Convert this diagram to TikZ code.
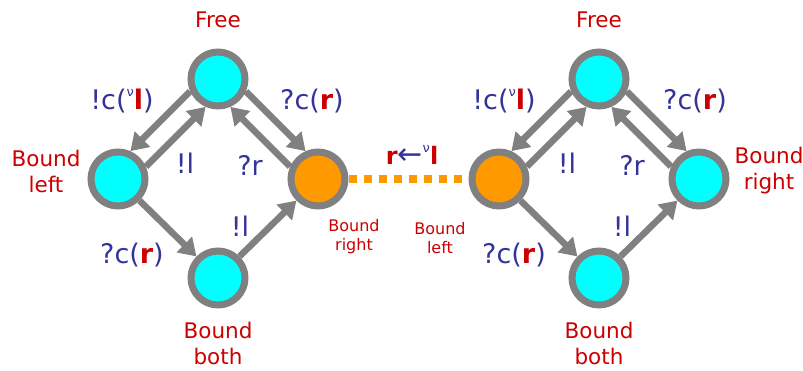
\documentclass[tikz,border=0pt]{standalone}
\usepackage{fontspec}
\setmainfont{DejaVu Sans}
\usetikzlibrary{arrows.meta}
\definecolor{lblred}{HTML}{CC0000}
\definecolor{lblblue}{HTML}{333399}
\definecolor{ngray}{HTML}{808080}
\definecolor{ncyan}{HTML}{00FFFF}
\definecolor{norange}{HTML}{FF9900}
\newcommand{\redr}{\textcolor{lblred}{\textbf{r}}}
\newcommand{\redl}{\textcolor{lblred}{\textbf{l}}}
\newcommand{\nusup}{\raisebox{0.9ex}{\fontsize{13}{13}\selectfont ν}}
\newcommand{\sendnu}{!c(\nusup\redl)}
\newcommand{\recvr}{?c(\redr)}
\begin{document}
\begin{tikzpicture}[x=1pt,y=1pt,
  state/.style={circle,draw=ngray,line width=7pt,fill=ncyan,minimum size=54pt,inner sep=0pt},
  bstate/.style={state,fill=norange},
  arr/.style={draw=ngray,line width=6.5pt,-{Triangle[length=17pt,width=21pt]}},
  big/.style={font=\fontsize{21.5}{26}\selectfont,text=lblred,align=center},
  small/.style={font=\fontsize{16}{19}\selectfont,text=lblred,align=center},
  lab/.style={font=\fontsize{27}{30}\selectfont,text=lblblue,inner sep=0pt},
  dots/.style={draw=norange,line width=8pt,dash pattern=on 8pt off 7pt}
]
\useasboundingbox (0,0) rectangle (803,370);
% left diamond
\node[state]  (f1) at (218,291) {};
\node[state]  (l1) at (118,191) {};
\node[bstate] (r1) at (318,191) {};
\node[state]  (b1) at (218,92) {};
% right diamond
\node[state]  (f2) at (599,291) {};
\node[bstate] (l2) at (499,191) {};
\node[state]  (r2) at (699,191) {};
\node[state]  (b2) at (599,92) {};

\draw[dots] (r1.east) -- (l2.west);

\foreach \f/\l/\r/\b in {f1/l1/r1/b1, f2/l2/r2/b2}{
  \draw[arr] (\f.204) -- (\l.66);
  \draw[arr] (\l.24) -- (\f.246);
  \draw[arr] (\f.336) -- (\r.114);
  \draw[arr] (\r.156) -- (\f.294);
  \draw[arr] (\l.315) -- (\b.135);
  \draw[arr] (\b.45) -- (\r.225);
}

% state labels
\node[big] (tf1) at (218,350) {Free};
\node[big] (tl1) at (46,199) {Bound\\left};
\node[big] (tb1) at (218,27) {Bound\\both};
\node[small] (tr1) at (354,133) {Bound\\right};
\node[small] (tl2) at (440,132) {Bound\\left};
\node[big] (tf2) at (599,350) {Free};
\node[big] (tr2) at (769,199) {Bound\\right};
\node[big] (tb2) at (599,27) {Bound\\both};

% transition labels
\node[lab] (a1) at (122,269) {\sendnu};
\node[lab] (a2) at (312,269) {\recvr};
\node[lab] (a3) at (185,207) {!l};
\node[lab] (a4) at (250,205) {?r};
\node[lab] (a5) at (240,144) {!l};
\node[lab] (a6) at (132,115) {\recvr};
\node[lab] (c1) at (504,269) {\sendnu};
\node[lab] (c2) at (695,269) {\recvr};
\node[lab] (c3) at (567,207) {!l};
\node[lab] (c4) at (632,205) {?r};
\node[lab] (c5) at (622,144) {!l};
\node[lab] (c6) at (514,115) {\recvr};

\node[lab,font=\fontsize{24}{28}\selectfont] (m) at (412,215) {\redr{\fontsize{30}{30}\selectfont ←}\nusup\redl};
\end{tikzpicture}
\end{document}
